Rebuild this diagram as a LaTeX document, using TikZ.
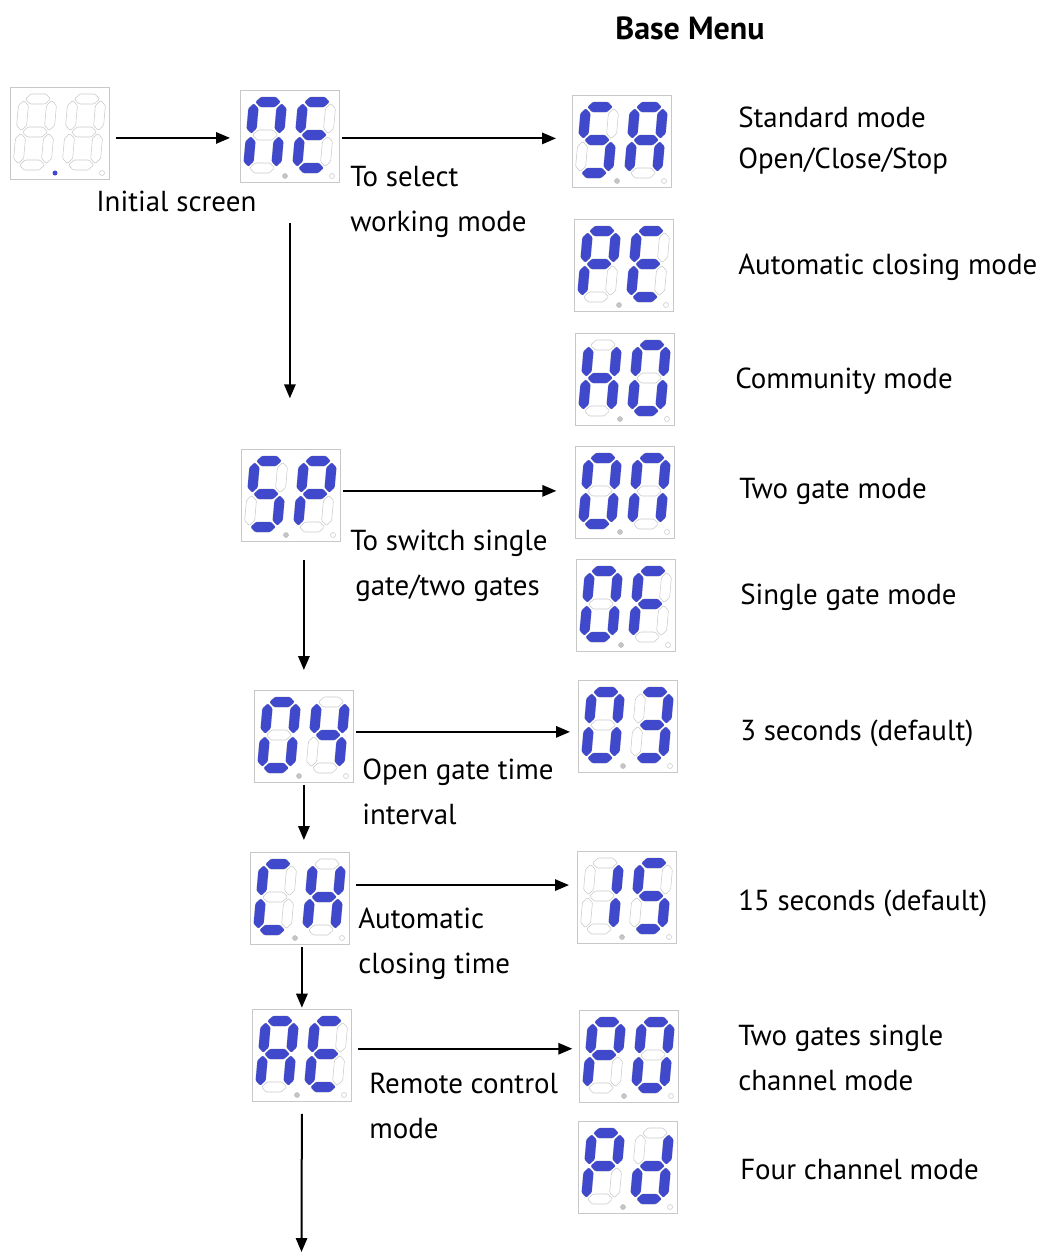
\documentclass[tikz,border=0pt]{standalone}
\usepackage{fontspec}
\setmainfont{PT Sans}
\usetikzlibrary{arrows.meta}
\definecolor{segblue}{RGB}{64,72,204}
\definecolor{segline}{RGB}{200,200,200}

% one segment of a digit, digit frame 28 x 66
\newcommand{\hseg}[1]{(1.5,#1) -- (6.5,#1-5) -- (21.5,#1-5) -- (26.5,#1) -- (21.5,#1+5) -- (6.5,#1+5) -- cycle}
\newcommand{\vseg}[2]{(#1,#2+1.5) -- (#1+5,#2+6.5) -- (#1+5,#2+26.5) -- (#1,#2+31.5) -- (#1-5,#2+26.5) -- (#1-5,#2+6.5) -- cycle}
\newcommand{\sega}{\hseg{0}}
\newcommand{\segg}{\hseg{33}}
\newcommand{\segd}{\hseg{66}}
\newcommand{\segf}{\vseg{0}{0}}
\newcommand{\segb}{\vseg{28}{0}}
\newcommand{\sege}{\vseg{0}{33}}
\newcommand{\segc}{\vseg{28}{33}}
\newcommand{\segnone}{}
\newcommand{\segpath}[2]{\path[#1] \csname seg#2\endcsname;}

% display: [point style]{name}{top left}{left digit}{right digit}
\newcommand{\display}[5][dpgray]{%
  \node[dispbox] (#2) at (#3) {};
  \pic[xslant=0.09] at ([shift={(14,12)}]#2.north west) {digit={#4}};
  \pic[xslant=0.09] at ([shift={(63,12)}]#2.north west) {digit={#5}};
  \path[#1] ([shift={(45,86)}]#2.north west) circle (2.5);
  \path[dpoff] ([shift={(92,86)}]#2.north west) circle (2.5);
}

\tikzset{
  pics/digit/.style={code={
    \foreach \s in {a,b,c,d,e,f,g} {\segpath{segoff}{\s}}
    \foreach \s in {#1} {\segpath{segon}{\s}}
  }},
}

\begin{document}
\begin{tikzpicture}[x=0.75pt,y=-0.75pt,
  dispbox/.style={draw=segline, line width=0.6pt, anchor=north west, minimum width=74.25pt, minimum height=69pt, inner sep=0pt},
  segoff/.style={draw=segline, line width=0.4pt, rounded corners=0.8pt},
  segon/.style={fill=segblue, rounded corners=0.8pt},
  dpgray/.style={fill=gray!45, draw=gray!60, line width=0.3pt},
  dpblue/.style={fill=segblue},
  dpoff/.style={draw=segline, line width=0.4pt},
  flow/.style={line width=1.5pt, -{Triangle[length=10.5pt,width=8.5pt]}},
  txt/.style={anchor=west, align=left, inner sep=0pt, font=\fontsize{21.7}{33.75}\selectfont}]
\useasboundingbox (0,0) rectangle (1041,1254);

\node[font=\fontsize{24}{28}\selectfont\bfseries] (title) at (690,28) {Base Menu};

% left column
\display[dpblue]{dInit}{10,87}{none}{none}
\display{dNE}{240,90}{a,b,c,e,f}{a,d,e,f,g}
\display{dSP}{241,449}{a,c,d,f,g}{a,b,e,f,g}
\display{dO4}{254,690}{a,b,c,d,e,f}{b,c,f,g}
\display{dCH}{250,852}{a,d,e,f}{b,c,e,f,g}
\display{dAE}{252,1009}{a,b,c,e,f,g}{a,d,e,f,g}

% right column
\display{dSA}{572,95}{a,c,d,f,g}{a,b,c,e,f,g}
\display{dPE}{574,219}{a,b,e,f,g}{a,d,e,f,g}
\display{dH0}{575,333}{b,c,e,f,g}{a,b,c,d,e,f}
\display{dOn}{575,446}{a,b,c,d,e,f}{a,b,c,e,f}
\display{dOF}{576,559}{a,b,c,d,e,f}{a,e,f,g}
\display{dO3}{578,680}{a,b,c,d,e,f}{a,b,c,d,g}
\display{d15}{577,851}{b,c}{a,c,d,f,g}
\display{dP0}{579,1010}{a,b,e,f,g}{a,b,c,d,e,f}
\display{dPd}{578,1121}{a,b,e,f,g}{b,c,d,e,g}

\coordinate (more) at (301.5,1252);

% labels
\node[txt] (lInit) at (96,201) {Initial screen};
\node[txt] (lNE) at (350,202) {To select\\working mode};
\node[txt] (lSP) at (350,566) {To switch single\\\hspace{3.75pt}gate/two gates};
\node[txt] (lO4) at (362,792) {Open gate time\\interval};
\node[txt] (lCH) at (358,944) {Automatic\\closing time};
\node[txt] (lAE) at (369,1106) {Remote control\\mode};
\node[txt, font=\fontsize{21.7}{30.75}\selectfont] (lSA) at (738,141) {Standard mode\\Open/Close/Stop};
\node[txt] (lPE) at (738,267) {Automatic closing mode};
\node[txt] (lH0) at (735,381) {Community mode};
\node[txt] (lOn) at (739,491) {Two gate mode};
\node[txt] (lOF) at (740,597) {Single gate mode};
\node[txt] (lO3) at (740,733) {3 seconds (default)};
\node[txt] (l15) at (738,903) {15 seconds (default)};
\node[txt] (lP0) at (738,1058) {Two gates single\\channel mode};
\node[txt] (lPd) at (740,1170) {Four channel mode};

% arrows
\draw[flow, shorten <=4.5pt, shorten >=7.5pt] ([yshift=-3.4pt]dInit.east) -- ([yshift=-3.4pt]dInit.east -| dNE.west);
\draw[flow, shorten <=1.5pt, shorten >=12pt] ([yshift=-1.5pt]dNE.east) -- ([yshift=-1.5pt]dNE.east -| dSA.west);
\draw[flow, shorten <=30pt, shorten >=38pt] (dNE.south) -- (dNE.south |- dSP.north);
\draw[flow, shorten <=1.5pt, shorten >=14pt] ([yshift=3.4pt]dSP.east) -- ([yshift=3.4pt]dSP.east -| dOn.west);
\draw[flow, shorten <=13.5pt, shorten >=15pt] (dSP.south -| dO4.north) -- (dO4.north);
\draw[flow, shorten <=2pt, shorten >=6pt] ([yshift=3.4pt]dO4.east) -- ([yshift=3.4pt]dO4.east -| dO3.west);
\draw[flow, shorten <=1.5pt, shorten >=9pt] (dO4.south) -- (dO4.south |- dCH.north);
\draw[flow, shorten <=4.5pt, shorten >=6pt] ([yshift=10pt]dCH.east) -- ([yshift=10pt]dCH.east -| d15.west);
\draw[flow, shorten <=1.5pt, shorten >=1pt] (dAE.north |- dCH.south) -- (dAE.north);
\draw[flow, shorten <=5pt, shorten >=5pt] ([yshift=5pt]dAE.east) -- ([yshift=5pt]dAE.east -| dP0.west);
\draw[flow, shorten <=9pt, shorten >=0pt] (dAE.south) -- (more);
\end{tikzpicture}
\end{document}
